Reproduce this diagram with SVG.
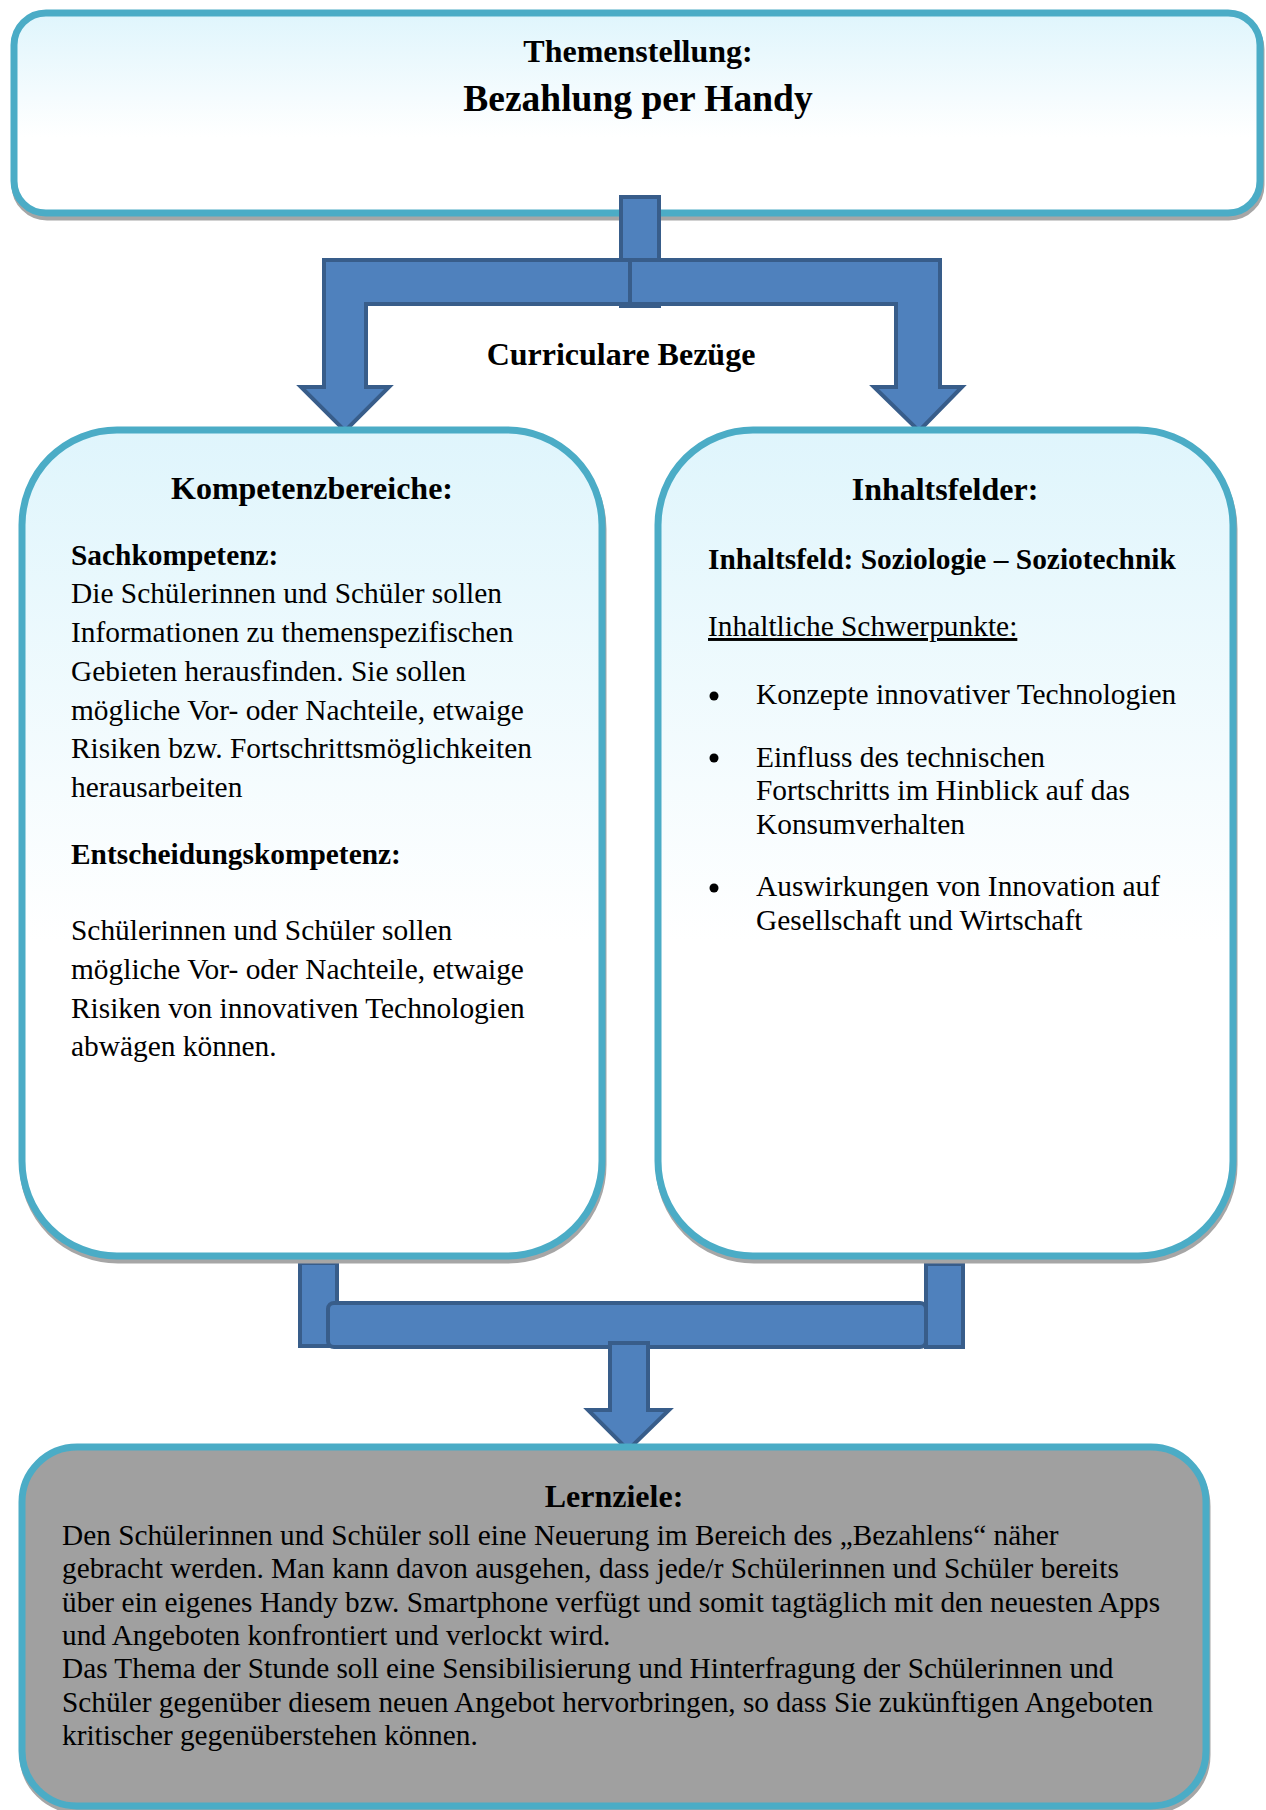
<svg xmlns="http://www.w3.org/2000/svg" width="1266" height="1810" viewBox="0 0 1266 1810">
<defs>
<linearGradient id="lb" x1="0" y1="0" x2="0" y2="1">
<stop offset="0" stop-color="#DFF5FC"/>
<stop offset="0.62" stop-color="#FFFFFF"/>
<stop offset="1" stop-color="#FFFFFF"/>
</linearGradient>
<style>
.box{stroke:#4BACC6;stroke-width:7;fill:url(#lb)}
.gray{stroke:#4BACC6;stroke-width:7;fill:#A0A0A0}
.sh{fill:none;stroke:#A6A6A6;stroke-width:7}
.ar{fill:#4F81BD;stroke:#385D8A;stroke-width:4;stroke-linejoin:miter}
text{font-family:"Liberation Serif","Times New Roman",serif;fill:#000}
.b{font-weight:bold}
.t{font-size:29.4px}
.h{font-size:32px;font-weight:bold}
.lz{font-size:29.3px}
</style>
</defs>
<g id="top-box">
<rect class="sh" x="15" y="17" width="1246" height="200" rx="32"/>
<rect class="box" x="14" y="13" width="1246" height="200" rx="32"/>
<text class="b" x="638" y="62" font-size="32" text-anchor="middle">Themenstellung:</text>
<text class="b" x="638" y="111" font-size="37.5" text-anchor="middle">Bezahlung per Handy</text>
</g>
<g id="connectors">
<rect class="ar" x="621" y="197" width="38" height="109"/>
<path class="ar" d="M630,260 H324 V387 H301 L345,431 L389,387 H366 V304 H630 Z"/>
<path class="ar" d="M630,260 H940 V387 H962 L919,431 L874,387 H896 V304 H630 Z"/>
<rect class="ar" x="300" y="1263" width="37" height="83"/>
<rect class="ar" x="328" y="1303" width="598" height="44" rx="6"/>
<rect class="ar" x="926" y="1264" width="37" height="83"/>
<path class="ar" d="M610,1343 H648 V1410 H669 L628,1450 L588,1410 H610 Z"/>
</g>
<g id="label-curriculare">
<text class="b" x="621" y="365" font-size="32" text-anchor="middle">Curriculare Bezüge</text>
</g>
<g id="kompetenz-box">
<rect class="sh" x="23" y="434" width="580" height="826" rx="95"/>
<rect class="box" x="22" y="430" width="580" height="826" rx="95"/>
<text class="h" x="312" y="499" text-anchor="middle">Kompetenzbereiche:</text>
<text class="t b" x="71" y="565">Sachkompetenz:</text>
<text class="t" x="71" y="603">Die Schülerinnen und Schüler sollen</text>
<text class="t" x="71" y="642">Informationen zu themenspezifischen</text>
<text class="t" x="71" y="681">Gebieten herausfinden. Sie sollen</text>
<text class="t" x="71" y="720">mögliche Vor- oder Nachteile, etwaige</text>
<text class="t" x="71" y="758">Risiken bzw. Fortschrittsmöglichkeiten</text>
<text class="t" x="71" y="797">herausarbeiten</text>
<text class="t b" x="71" y="864">Entscheidungskompetenz:</text>
<text class="t" x="71" y="940">Schülerinnen und Schüler sollen</text>
<text class="t" x="71" y="979">mögliche Vor- oder Nachteile, etwaige</text>
<text class="t" x="71" y="1018">Risiken von innovativen Technologien</text>
<text class="t" x="71" y="1056">abwägen können.</text>
</g>
<g id="inhalt-box">
<rect class="sh" x="659" y="434" width="575" height="826" rx="95"/>
<rect class="box" x="658" y="430" width="575" height="826" rx="95"/>
<text class="h" x="945" y="500" text-anchor="middle">Inhaltsfelder:</text>
<text class="t b" x="708" y="569">Inhaltsfeld: Soziologie – Soziotechnik</text>
<text class="t" x="708" y="636" text-decoration="underline">Inhaltliche Schwerpunkte:</text>
<circle cx="714" cy="696" r="4.5"/>
<text class="t" x="756" y="704">Konzepte innovativer Technologien</text>
<circle cx="714" cy="758" r="4.5"/>
<text class="t" x="756" y="767">Einfluss des technischen</text>
<text class="t" x="756" y="800">Fortschritts im Hinblick auf das</text>
<text class="t" x="756" y="834">Konsumverhalten</text>
<circle cx="714" cy="888" r="4.5"/>
<text class="t" x="756" y="896">Auswirkungen von Innovation auf</text>
<text class="t" x="756" y="930">Gesellschaft und Wirtschaft</text>
</g>
<g id="lernziele-box">
<rect class="sh" x="23" y="1451" width="1184" height="359" rx="55"/>
<rect class="gray" x="22" y="1447" width="1184" height="359" rx="55"/>
<text class="h" x="614" y="1507" font-size="30.5" text-anchor="middle">Lernziele:</text>
<text class="lz" x="62" y="1545">Den Schülerinnen und Schüler soll eine Neuerung im Bereich des „Bezahlens“ näher</text>
<text class="lz" x="62" y="1578">gebracht werden. Man kann davon ausgehen, dass jede/r Schülerinnen und Schüler bereits</text>
<text class="lz" x="62" y="1612">über ein eigenes Handy bzw. Smartphone verfügt und somit tagtäglich mit den neuesten Apps</text>
<text class="lz" x="62" y="1645">und Angeboten konfrontiert und verlockt wird.</text>
<text class="lz" x="62" y="1678">Das Thema der Stunde soll eine Sensibilisierung und Hinterfragung der Schülerinnen und</text>
<text class="lz" x="62" y="1712">Schüler gegenüber diesem neuen Angebot hervorbringen, so dass Sie zukünftigen Angeboten</text>
<text class="lz" x="62" y="1745">kritischer gegenüberstehen können.</text>
</g>
</svg>
